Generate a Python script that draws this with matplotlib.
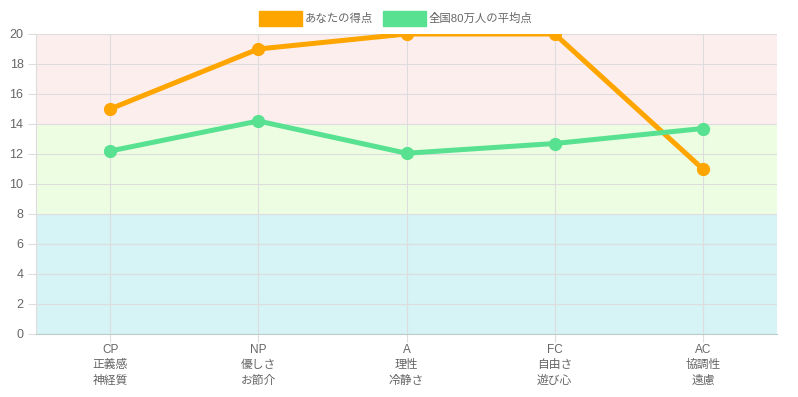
import matplotlib
matplotlib.use("Agg")
import matplotlib.pyplot as plt
from matplotlib.patches import Rectangle

plt.rcParams['font.family'] = ['Liberation Sans', 'Noto Sans CJK JP', 'DejaVu Sans']

categories = ["CP\n正義感\n神経質", "NP\n優しさ\nお節介", "A\n理性\n冷静さ", "FC\n自由さ\n遊び心", "AC\n協調性\n遠慮"]
your_scores = [15, 19, 20, 20, 11]
national_avg = [12.2, 14.2, 12.05, 12.7, 13.7]
series_labels = ["あなたの得点", "全国80万人の平均点"]
bands = [(0, 8, '#d6f3f5'), (8, 14, '#edfde2'), (14, 20, '#fdeeee')]
yticks = list(range(0, 21, 2))

W, H = 798, 397
fig = plt.figure(figsize=(W/100, H/100), dpi=100)
ax = fig.add_axes([36/W, (H-334)/H, (777-36)/W, 300/H])

x = list(range(len(categories)))
ax.set_xlim(-0.5, len(categories)-0.5)
ax.set_ylim(0, 20)

for lo, hi, c in bands:
    ax.axhspan(lo, hi, color=c, zorder=0, lw=0)

ax.set_yticks(yticks)
ax.set_xticks(x)
ax.set_xticklabels(categories, fontsize=8.5, color='#666666', linespacing=1.4)
ax.tick_params(axis='y', labelsize=9, labelcolor='#666666', length=6, color='#dddddd', pad=3)
ax.tick_params(axis='x', length=6, color='#dddddd', pad=1)
ax.grid(True, color='#dddddd', lw=0.8, zorder=1)
ax.set_axisbelow(True)
for s in ['top', 'right']:
    ax.spines[s].set_visible(False)
ax.spines['left'].set_color('#dddddd')
ax.spines['bottom'].set_color('#bbcccc')

orange = '#ffa500'
green = '#58e191'
ax.plot(x, your_scores, color=orange, lw=3.6, marker='o', ms=8.5, zorder=3, label=series_labels[0])
ax.plot(x, national_avg, color=green, lw=3.6, marker='o', ms=8.5, zorder=3, label=series_labels[1])

# legend drawn manually in figure pixel coords
def fx(px): return px / W
def fy(py): return (H - py) / H
fig.patches.append(Rectangle((fx(259), fy(26)), 43/W, 15/H, transform=fig.transFigure, color=orange, figure=fig))
fig.text(fx(305), fy(18.5), series_labels[0], fontsize=8.2, color='#666666', va='center', ha='left')
fig.patches.append(Rectangle((fx(383), fy(26)), 43/W, 15/H, transform=fig.transFigure, color=green, figure=fig))
fig.text(fx(429), fy(18.5), series_labels[1], fontsize=8.2, color='#666666', va='center', ha='left')

fig.savefig("out.png", dpi=100)
